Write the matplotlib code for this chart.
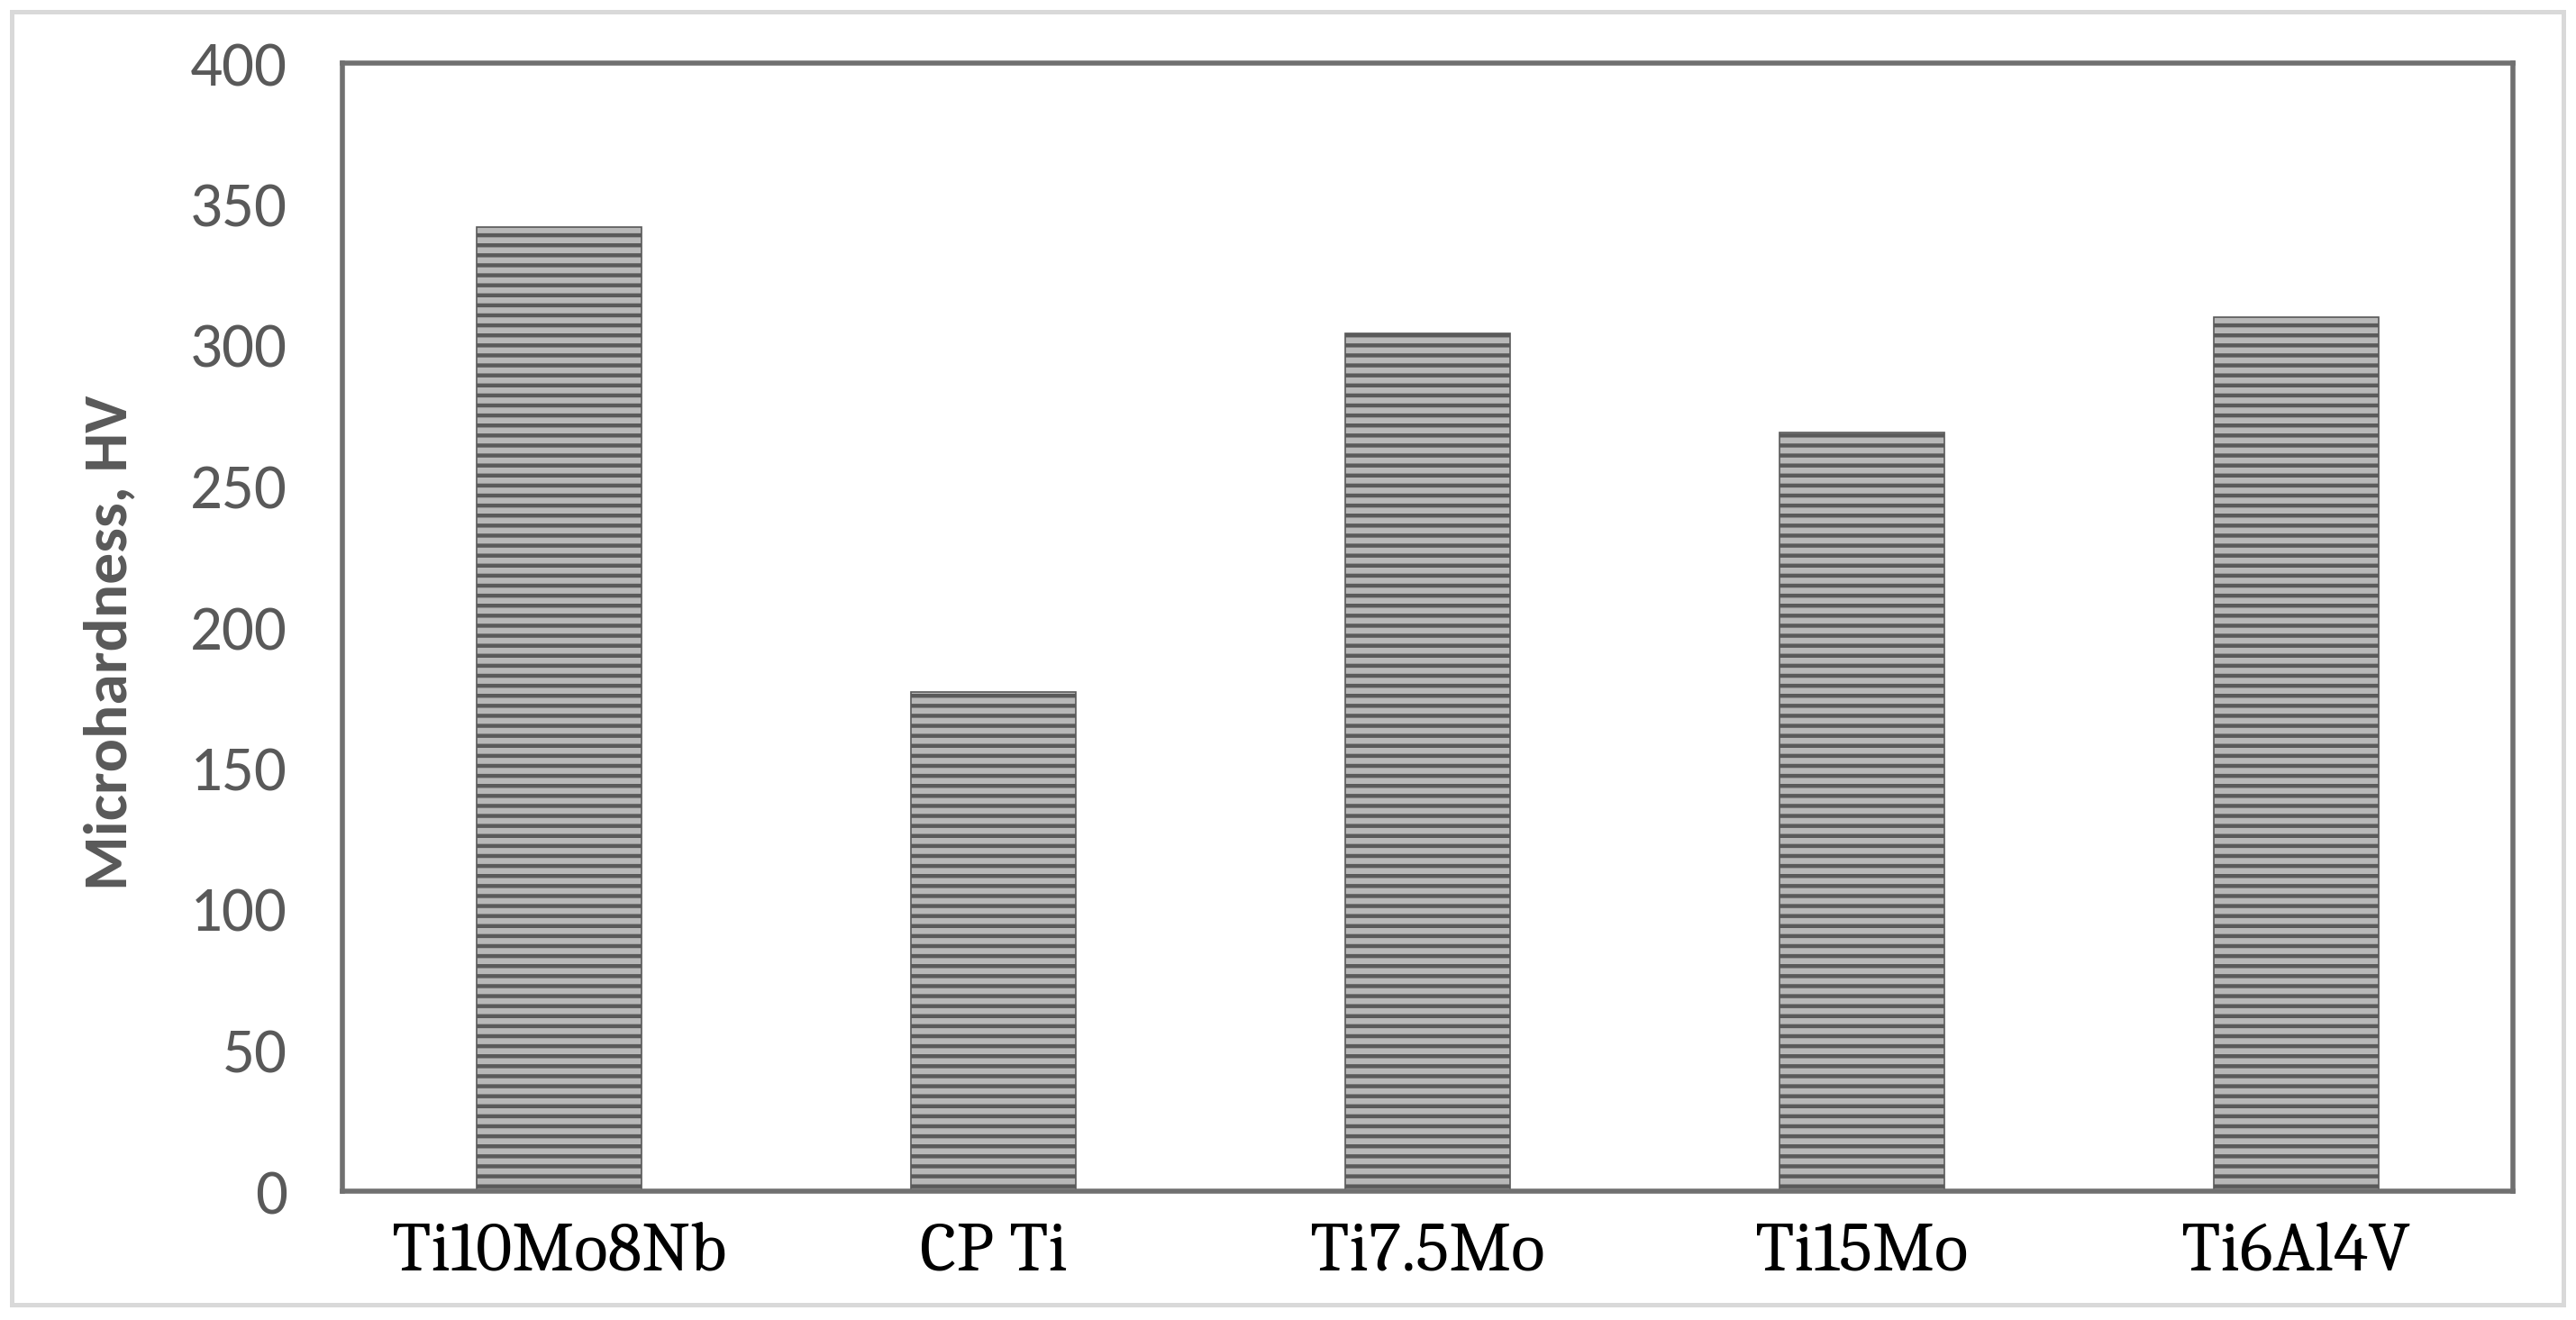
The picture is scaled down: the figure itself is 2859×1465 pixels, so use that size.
import matplotlib
matplotlib.use('Agg')
import matplotlib.pyplot as plt
from matplotlib.patches import Rectangle
import numpy as np

alloys = ['Ti10Mo8Nb', 'CP Ti', 'Ti7.5Mo', 'Ti15Mo', 'Ti6Al4V']
hardness = [342, 177, 304, 269, 310]
yticks = [0, 50, 100, 150, 200, 250, 300, 350, 400]

SANS = ['Carlito', 'Open Sans', 'DejaVu Sans']
SERIF = ['Caladea', 'Liberation Serif', 'DejaVu Serif']

plt.rcParams['hatch.linewidth'] = 1.6

fig = plt.figure(figsize=(2859 / 200, 1465 / 200), dpi=200)
ax = fig.add_axes([380 / 2859, 1 - 1322 / 1465, (2789 - 380) / 2859, (1322 - 70) / 1465])

x = np.arange(len(alloys))
ax.bar(x, hardness, width=0.38, color='#b8b8b8', edgecolor='#5a5a5a',
       linewidth=0.6, hatch='---', zorder=2)

ax.set_xlim(-0.5, len(alloys) - 0.5)
ax.set_ylim(0, 400)
ax.set_yticks(yticks)
ax.set_xticks(x)
ax.set_xticklabels(alloys, family=SERIF, fontsize=28, color='black')
ax.set_yticklabels([str(v) for v in yticks], family=SANS, fontsize=25.5, color='#595959')
ax.tick_params(axis='both', length=0)
ax.tick_params(axis='y', pad=22)
ax.tick_params(axis='x', pad=12)
for s in ax.spines.values():
    s.set_color('#707070')
    s.set_linewidth(2.0)

ax.set_ylabel('Microhardness, HV', family=SANS, fontweight='bold',
              fontsize=25, color='#595959')
ax.yaxis.set_label_coords(-0.095, 0.486)

# light frame around the whole chart
fig.patches.append(Rectangle((13 / 2859, 17 / 1465), (2845 - 13) / 2859, (1448 - 13) / 1465,
                             transform=fig.transFigure, fill=False,
                             edgecolor='#d9d9d9', linewidth=1.8))

fig.savefig('out.png', dpi=200)
